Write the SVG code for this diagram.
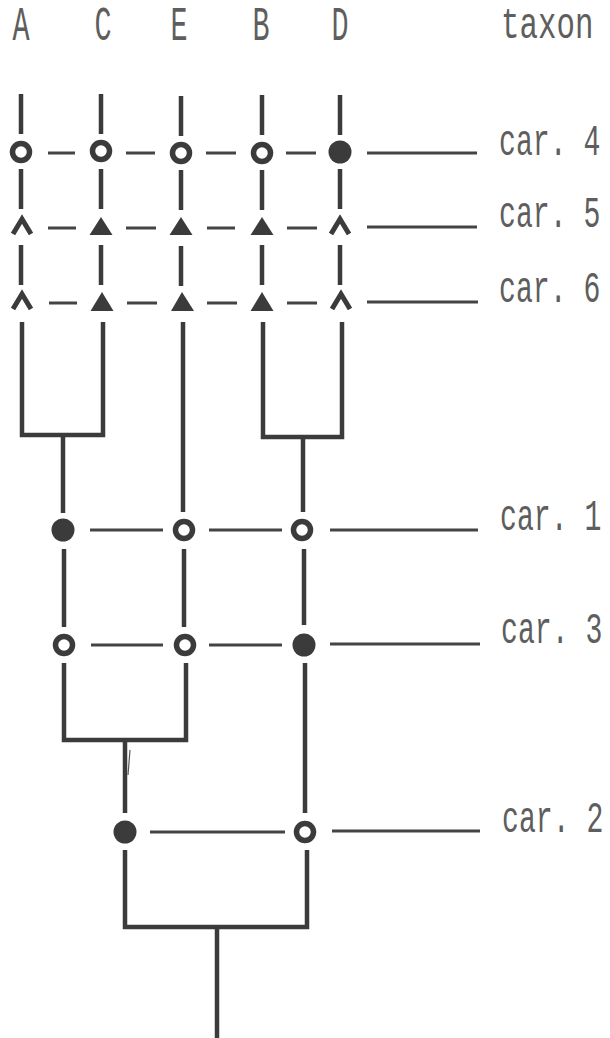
<svg xmlns="http://www.w3.org/2000/svg" width="610" height="1038" viewBox="0 0 610 1038">
<style>
.ln{stroke:#3b3b3b;stroke-width:4.5;fill:none;stroke-linecap:butt;stroke-linejoin:miter}
.ds{stroke:#444;stroke-width:3;fill:none}
.oc{fill:none;stroke:#3b3b3b;stroke-width:5.5}
.fc{fill:#3b3b3b}
.tri{fill:#3b3b3b}
.car{fill:none;stroke:#3b3b3b;stroke-width:5;stroke-linejoin:miter}
.tx{font-family:"Liberation Mono","DejaVu Sans Mono",monospace;font-size:44px;fill:#5e5e5e}
.hd{text-anchor:middle;font-size:49px}
</style>
<rect width="610" height="1038" fill="#ffffff"/>

<g id="taxa">
<text id="taxon-A" class="tx hd" transform="translate(21,40) scale(0.58,1)">A</text>
<text id="taxon-C" class="tx hd" transform="translate(103,40) scale(0.58,1)">C</text>
<text id="taxon-E" class="tx hd" transform="translate(179,40) scale(0.58,1)">E</text>
<text id="taxon-B" class="tx hd" transform="translate(261,40) scale(0.58,1)">B</text>
<text id="taxon-D" class="tx hd" transform="translate(340,40) scale(0.58,1)">D</text>
<text id="taxon-title" class="tx" transform="translate(501,38) scale(0.7,1)">taxon</text>
</g>

<g id="connectors">
<path class="ln" d="M21 94V134M101 94V134M181 96V136M262 95V135M340 95V135"/>
<path class="ln" d="M21 169V209M101 169V209M181 170V210M262 170V210M340 169V209"/>
<path class="ln" d="M21 245V285M101 245V285M181 246V286M262 245V285M340 245V285"/>
<path class="ds" d="M48 153H75M126 153H155M206 153H236M286 153H316M367 153H477"/>
<path class="ds" d="M48 228H76M126 228H156M207 228H235M287 228H317M367 227H477"/>
<path class="ds" d="M49 303H77M127 303H157M207 303H237M287 303H317M367 302H478"/>
<path class="ln" d="M22 322V435H103V322"/>
<path class="ln" d="M63 435V513"/>
<path class="ln" d="M183 322V512"/>
<path class="ln" d="M263 322V437H342V322"/>
<path class="ln" d="M303 437V512"/>
<path class="ds" d="M90 530H163M209 530H282M330 530H478"/>
<path class="ln" d="M64 549V627M184 549V627M304 549V625"/>
<path class="ds" d="M91 645H163M209 645H282M330 644H480"/>
<path class="ln" d="M64 663V740H186V663"/>
<path class="ln" d="M305 663V813"/>
<path class="ln" d="M125 740V813"/>
<path d="M130 750L128 775" stroke="#555" stroke-width="1.2"/>
<path class="ds" d="M150 832H285M332 831H480"/>
<path class="ln" d="M125 850V927H307V850"/>
<path class="ln" d="M217 927V1038"/>
</g>

<g id="car4">
<circle id="c4-A" class="oc" cx="21" cy="152" r="8.5"/>
<circle id="c4-C" class="oc" cx="101" cy="151" r="8.5"/>
<circle id="c4-E" class="oc" cx="181" cy="153" r="8.5"/>
<circle id="c4-B" class="oc" cx="262" cy="153" r="8.5"/>
<circle id="c4-D" class="fc" cx="340" cy="152" r="11.5"/>
<text id="label-car4" class="tx" transform="translate(499,155) scale(0.64,1)">car. 4</text>
</g>

<g id="car5">
<polyline id="c5-A" class="car" points="13,234 22,219 31,234"/>
<polygon id="c5-C" class="tri" points="101,217 112.5,235 89.5,235"/>
<polygon id="c5-E" class="tri" points="181,217 192.5,235 169.5,235"/>
<polygon id="c5-B" class="tri" points="262,217 273.5,235 250.5,235"/>
<polyline id="c5-D" class="car" points="331,234 340,219 349,234"/>
<text id="label-car5" class="tx" transform="translate(499,227) scale(0.64,1)">car. 5</text>
</g>

<g id="car6">
<polyline id="c6-A" class="car" points="13,309 22,294 31,309"/>
<polygon id="c6-C" class="tri" points="102,292 113.5,311 90.5,311"/>
<polygon id="c6-E" class="tri" points="182,292 194,311 171,311"/>
<polygon id="c6-B" class="tri" points="262,292 273.5,311 250.5,311"/>
<polyline id="c6-D" class="car" points="332,309 341,294 350,309"/>
<text id="label-car6" class="tx" transform="translate(499,302) scale(0.64,1)">car. 6</text>
</g>

<g id="car1">
<circle id="c1-AC" class="fc" cx="63" cy="530" r="11.5"/>
<circle id="c1-E" class="oc" cx="184" cy="530" r="8.5"/>
<circle id="c1-BD" class="oc" cx="302" cy="530" r="8.5"/>
<text id="label-car1" class="tx" transform="translate(500,530) scale(0.64,1)">car. 1</text>
</g>

<g id="car3">
<circle id="c3-AC" class="oc" cx="64" cy="645" r="8.5"/>
<circle id="c3-E" class="oc" cx="185" cy="645" r="8.5"/>
<circle id="c3-BD" class="fc" cx="304" cy="645" r="11.5"/>
<text id="label-car3" class="tx" transform="translate(501,643) scale(0.64,1)">car. 3</text>
</g>

<g id="car2">
<circle id="c2-ACE" class="fc" cx="125" cy="832" r="11.5"/>
<circle id="c2-BD" class="oc" cx="305" cy="832" r="8.5"/>
<text id="label-car2" class="tx" transform="translate(502,832) scale(0.64,1)">car. 2</text>
</g>
</svg>
